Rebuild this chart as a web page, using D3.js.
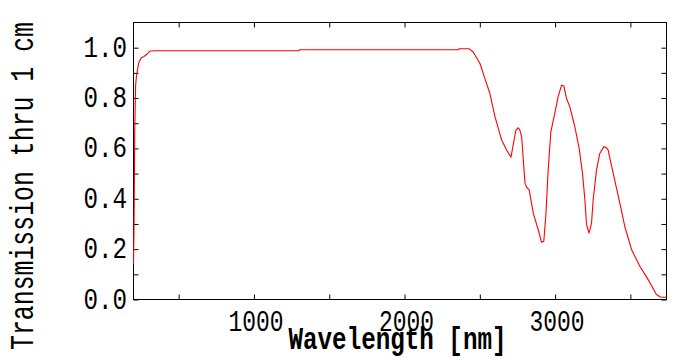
<!DOCTYPE html>
<html>
<head>
<meta charset="utf-8">
<script src="https://cdn.jsdelivr.net/npm/d3@7"></script>
<style>
  html, body { margin: 0; padding: 0; background: #fff; }
  svg { display: block; }
  text { font-family: "Liberation Mono", "DejaVu Sans Mono", monospace; fill: #000; }
</style>
</head>
<body>
<svg id="chart" width="685" height="360"></svg>
<script>
// ---- data ----
const wavelength = [200, 204, 208, 214, 220, 235, 251, 270, 290, 311, 350, 1300, 1302, 2360, 2362, 2428,
  2456, 2501, 2534, 2567, 2600, 2645, 2678, 2707, 2740, 2755, 2765, 2778, 2800, 2812, 2828, 2855, 2888,
  2910, 2925, 2939, 2954, 2972, 2998, 3020, 3043, 3058, 3076, 3098, 3131, 3160, 3182, 3198, 3209, 3226,
  3242, 3253, 3275, 3297, 3324, 3340, 3352, 3386, 3430, 3463, 3508, 3563, 3618, 3673, 3700, 3717, 3740];
const transmission = [0.14, 0.32, 0.66, 0.85, 0.89, 0.94, 0.96, 0.965, 0.975, 0.987, 0.988, 0.988, 0.992, 0.992, 0.996, 0.996,
  0.983, 0.937, 0.877, 0.818, 0.728, 0.633, 0.594, 0.565, 0.673, 0.682, 0.675, 0.646, 0.462, 0.445, 0.435, 0.343, 0.277,
  0.227, 0.231, 0.336, 0.514, 0.666, 0.739, 0.805, 0.851, 0.848, 0.798, 0.765, 0.686, 0.600, 0.501, 0.396, 0.297, 0.264,
  0.303, 0.396, 0.514, 0.580, 0.607, 0.603, 0.594, 0.501, 0.383, 0.290, 0.198, 0.132, 0.079, 0.020, 0.010, 0.009, 0.009];
const xTicks = [500, 1000, 1500, 2000, 2500, 3000, 3500];
const xTickLabels = [1000, 2000, 3000];
const yTicks = [0, 0.1, 0.2, 0.3, 0.4, 0.5, 0.6, 0.7, 0.8, 0.9, 1.0];
const yTickLabels = [0, 0.2, 0.4, 0.6, 0.8, 1.0];
const xDomain = [200, 3740];
const yDomain = [0, 1.1];
const xTitle = "Wavelength [nm]";
const yTitle = "Transmission thru 1 cm";

// ---- layout ----
const L = 133.5, R = 666.5, T = 22.5, B = 299.5;
const svg = d3.select("#chart");
const x = d3.scaleLinear().domain(xDomain).range([L, R]);
const y = d3.scaleLinear().domain(yDomain).range([B, T]);
const tk = 5;

function styleAxis(g) {
  g.select(".domain").remove();
  g.selectAll(".tick line").attr("stroke", "#000").attr("stroke-width", 1);
}

// tick marks, all inward
svg.append("g").attr("transform", `translate(0,${B})`)
  .call(d3.axisBottom(x).tickValues(xTicks).tickSizeInner(-tk).tickSizeOuter(0).tickFormat(""))
  .call(styleAxis);
svg.append("g").attr("transform", `translate(0,${T})`)
  .call(d3.axisTop(x).tickValues(xTicks).tickSizeInner(-tk).tickSizeOuter(0).tickFormat(""))
  .call(styleAxis);
svg.append("g").attr("transform", `translate(${L},0)`)
  .call(d3.axisLeft(y).tickValues(yTicks).tickSizeInner(-tk).tickSizeOuter(0).tickFormat(""))
  .call(styleAxis);
svg.append("g").attr("transform", `translate(${R},0)`)
  .call(d3.axisRight(y).tickValues(yTicks).tickSizeInner(-tk).tickSizeOuter(0).tickFormat(""))
  .call(styleAxis);

// frame
svg.append("rect").attr("x", L).attr("y", T).attr("width", R - L).attr("height", B - T)
  .attr("fill", "none").attr("stroke", "#000").attr("stroke-width", 1);

// tick labels
svg.append("g").selectAll("text").data(yTickLabels).join("text")
  .attr("x", 127).attr("y", d => y(d)).attr("dy", "0.3em")
  .attr("text-anchor", "end")
  .attr("font-size", 30)
  .attr("textLength", 43.5).attr("lengthAdjust", "spacingAndGlyphs")
  .text(d => d3.format(".1f")(d));

svg.append("g").selectAll("text").data(xTickLabels).join("text")
  .attr("x", d => x(d) + 2).attr("y", 331)
  .attr("text-anchor", "middle")
  .attr("font-size", 30)
  .attr("textLength", 55).attr("lengthAdjust", "spacingAndGlyphs")
  .text(d => d);

// axis titles
svg.append("text")
  .attr("x", 397.5).attr("y", 349.3)
  .attr("text-anchor", "middle")
  .attr("font-size", 31).attr("font-weight", "bold")
  .attr("textLength", 218).attr("lengthAdjust", "spacingAndGlyphs")
  .text(xTitle);

svg.append("text")
  .attr("transform", "translate(33.3,186) rotate(-90)")
  .attr("text-anchor", "middle")
  .attr("font-size", 34)
  .attr("textLength", 328).attr("lengthAdjust", "spacingAndGlyphs")
  .text(yTitle);

// curve
const pts = wavelength.map((w, i) => [w, transmission[i]]);
svg.append("path").datum(pts)
  .attr("fill", "none").attr("stroke", "#ff0000").attr("stroke-width", 1.1)
  .attr("stroke-linejoin", "round")
  .attr("d", d3.line().x(d => x(d[0])).y(d => y(d[1])));
</script>
</body>
</html>
